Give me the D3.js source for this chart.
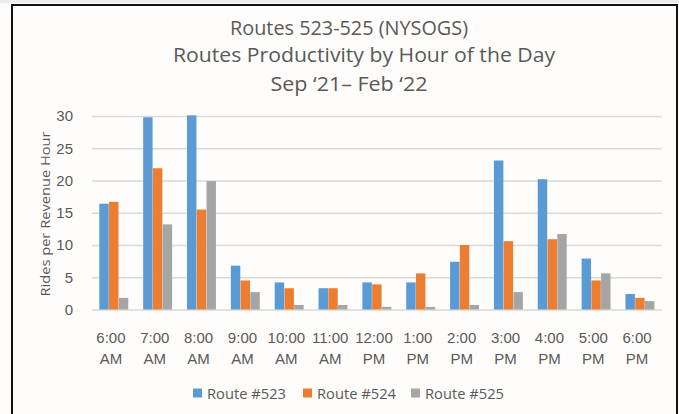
<!DOCTYPE html>
<html><head><meta charset="utf-8">
<script src="https://cdn.jsdelivr.net/npm/d3@7"></script>
<style>
html,body{margin:0;padding:0;background:#fdfcfa;}
svg{display:block;font-family:"Open Sans",Lato,sans-serif;}
</style></head>
<body><svg id="c" width="679" height="414"></svg>
<script>
const categories = ["6:00 AM","7:00 AM","8:00 AM","9:00 AM","10:00 AM","11:00 AM","12:00 PM","1:00 PM","2:00 PM","3:00 PM","4:00 PM","5:00 PM","6:00 PM"];
const seriesNames = ["Route #523","Route #524","Route #525"];
const route523 = [16.4, 29.8, 30.1, 6.8, 4.2, 3.3, 4.2, 4.2, 7.4, 23.1, 20.2, 7.9, 2.4];
const route524 = [16.7, 21.9, 15.5, 4.5, 3.3, 3.3, 3.9, 5.6, 10.0, 10.6, 10.9, 4.5, 1.8];
const route525 = [1.8, 13.2, 19.9, 2.7, 0.7, 0.7, 0.4, 0.4, 0.7, 2.7, 11.7, 5.6, 1.3];
const yTicks = [0, 5, 10, 15, 20, 25, 30];
const titleLines = ["Routes 523-525 (NYSOGS)", "Routes Productivity by Hour of the Day", "Sep \u201821\u2013 Feb \u201822"];
const colors = ["#5b9bd5", "#ed7d31", "#a5a5a5"];

const svg = d3.select("#c");
// top strip & frame
svg.append("rect").attr("x",0).attr("y",0).attr("width",679).attr("height",3).attr("fill","#ececec");
svg.append("rect").attr("x",12).attr("y",5).attr("width",665).attr("height",420)
  .attr("fill","#fefdfb").attr("stroke","#111").attr("stroke-width",2);

const x = d3.scaleBand().domain(categories).range([92, 662]).padding(0);
const bw = x.bandwidth();
const barW = bw / 4.5;
const xs = d3.scaleBand().domain(seriesNames).range([(bw - 3*barW)/2, (bw + 3*barW)/2]).padding(0);
const y = d3.scaleLinear().domain([0, 30]).range([309.5, 116]);

// gridlines
const yAxis = d3.axisLeft(y).tickValues(yTicks).tickSize(-(662-92)).tickPadding(20);
const gy = svg.append("g").attr("transform","translate(92,0)").call(yAxis);
gy.select(".domain").remove();
gy.selectAll(".tick line").attr("stroke","#d9d9d9").attr("stroke-width",1.5);
gy.selectAll(".tick text").attr("fill","#595959").attr("font-size",15).attr("x",-19).attr("text-anchor","end");

// bars
const seriesData = [route523, route524, route525];
seriesData.forEach((vals, si) => {
  svg.append("g").selectAll("rect").data(vals).join("rect")
    .attr("x", (d,i) => x(categories[i]) + xs(seriesNames[si]))
    .attr("y", d => y(d))
    .attr("width", xs.bandwidth() - 0.3)
    .attr("height", d => y(0) - y(d))
    .attr("fill", colors[si]);
});

// x labels
const xAxis = d3.axisBottom(x).tickSize(0).tickPadding(0);
const gx = svg.append("g").attr("transform","translate(0,309.5)").call(xAxis);
gx.select(".domain").remove();
gx.selectAll(".tick text").each(function(d){
  const t = d3.select(this); const parts = d.split(" ");
  t.text(null).attr("fill","#595959").attr("font-size",15).attr("y",0).attr("dy",null);
  t.append("tspan").attr("x",-3).attr("y",33).text(parts[0]);
  t.append("tspan").attr("x",-3).attr("y",54).text(parts[1]);
});

// y axis title
svg.append("text").attr("transform","translate(50,214) rotate(-90)")
  .attr("text-anchor","middle").attr("fill","#595959").attr("font-size",13.5)
  .attr("textLength",165).attr("lengthAdjust","spacingAndGlyphs")
  .text("Rides per Revenue Hour");

// title
const tY = [35, 62, 91], tX = [349, 364, 349], tW = [238, 382, 157];
titleLines.forEach((s,i) => {
  svg.append("text").attr("x", tX[i]).attr("y", tY[i]).attr("text-anchor","middle")
    .attr("fill","#595959").attr("font-size",20)
    .attr("textLength", tW[i]).attr("lengthAdjust","spacingAndGlyphs").text(s);
});

// legend
const legX = [193, 303, 411];
seriesNames.forEach((s,i) => {
  svg.append("rect").attr("x",legX[i]).attr("y",388.5).attr("width",9).attr("height",9).attr("fill",colors[i]);
  svg.append("text").attr("x",legX[i]+14).attr("y",398.5).attr("fill","#595959").attr("font-size",14.5)
    .attr("textLength",79).attr("lengthAdjust","spacingAndGlyphs").text(s);
});
</script></body></html>
